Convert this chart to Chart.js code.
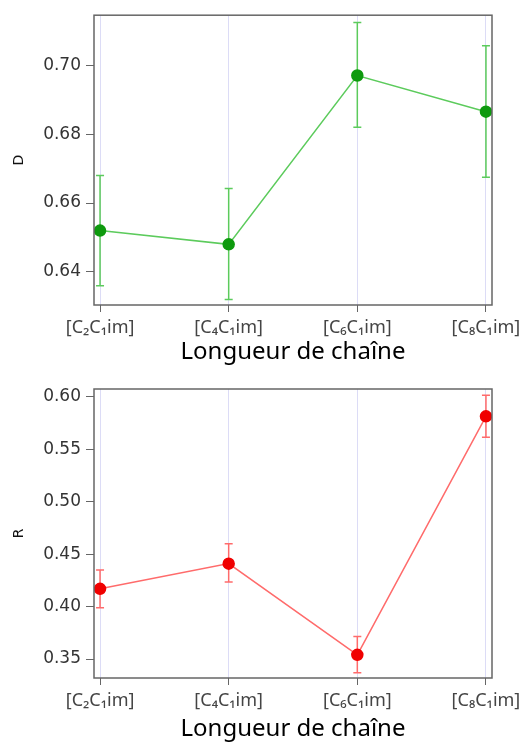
<!DOCTYPE html>
<html lang="fr">
<head>
    <meta charset="UTF-8">
    <title>D et R selon la longueur de chaîne</title>
    <script src="https://cdn.jsdelivr.net/npm/chart.js"></script>
    <style>
        body { margin: 0; background: #fff; }
        .box { position: absolute; left: 0; width: 528px; }
        #boxD { top: 0; height: 370px; }
        #boxR { top: 370px; height: 379px; }
    </style>
</head>
<body>
    <div class="box" id="boxD"><canvas id="chartD" width="528" height="370"></canvas></div>
    <div class="box" id="boxR"><canvas id="chartR" width="528" height="379"></canvas></div>

    <script>
        // Données
        const categories = ['[C₂C₁im]', '[C₄C₁im]', '[C₆C₁im]', '[C₈C₁im]'];

        const dValues = [0.652, 0.648, 0.697, 0.6865];
        const dLow    = [0.636, 0.632, 0.682, 0.6675];
        const dHigh   = [0.668, 0.6642, 0.7124, 0.7056];
        const dTicks  = [0.64, 0.66, 0.68, 0.70];

        const rValues = [0.417, 0.441, 0.354, 0.5815];
        const rLow    = [0.399, 0.4235, 0.337, 0.5615];
        const rHigh   = [0.435, 0.460, 0.3716, 0.6016];
        const rTicks  = [0.35, 0.40, 0.45, 0.50, 0.55, 0.60];

        // Barres d'erreur + cadre
        const errorBars = {
            id: 'errorBars',
            beforeDatasetsDraw(chart, args, opts) {
                const ctx = chart.ctx;
                const xs = chart.scales.x, ys = chart.scales.y;
                ctx.save();
                ctx.strokeStyle = opts.color;
                ctx.lineWidth = 1.5;
                opts.low.forEach((lo, i) => {
                    const x = xs.getPixelForValue(i);
                    const y1 = ys.getPixelForValue(lo);
                    const y2 = ys.getPixelForValue(opts.high[i]);
                    ctx.beginPath();
                    ctx.moveTo(x, y1); ctx.lineTo(x, y2);
                    ctx.moveTo(x - 4, y1); ctx.lineTo(x + 4, y1);
                    ctx.moveTo(x - 4, y2); ctx.lineTo(x + 4, y2);
                    ctx.stroke();
                });
                ctx.restore();
            },
            afterDraw(chart) {
                const a = chart.chartArea, ctx = chart.ctx;
                ctx.save();
                ctx.strokeStyle = '#666';
                ctx.lineWidth = 1.5;
                ctx.strokeRect(a.left, a.top, a.right - a.left, a.bottom - a.top);
                ctx.restore();
            }
        };

        function makeChart(id, opt) {
            return new Chart(document.getElementById(id), {
                type: 'line',
                data: {
                    datasets: [{
                        data: opt.values.map((v, i) => ({ x: i, y: v })),
                        borderColor: opt.lineColor,
                        borderWidth: 1.5,
                        pointRadius: 5.5,
                        pointBackgroundColor: opt.pointColor,
                        pointBorderColor: opt.pointColor,
                        tension: 0
                    }]
                },
                options: {
                    responsive: false,
                    animation: false,
                    devicePixelRatio: 1,
                    layout: { padding: { top: opt.padTop, right: 36, left: 0, bottom: 0 } },
                    plugins: {
                        legend: { display: false },
                        tooltip: { enabled: false },
                        errorBars: { low: opt.low, high: opt.high, color: opt.lineColor }
                    },
                    scales: {
                        x: {
                            type: 'linear',
                            min: -0.047,
                            max: 3.047,
                            afterBuildTicks: s => { s.ticks = categories.map((_, i) => ({ value: i })); },
                            afterFit: s => { s.height = opt.xHeight; },
                            ticks: {
                                callback: v => categories[v],
                                color: '#444',
                                padding: 5,
                                maxRotation: 0,
                                font: { family: 'Noto Sans', size: 18 }
                            },
                            grid: { color: '#dcdcf6', lineWidth: 1, tickColor: '#666', tickLength: 7 },
                            border: { display: false },
                            title: {
                                display: true,
                                text: 'Longueur de chaîne',
                                color: '#000',
                                font: { family: 'Noto Sans', size: 24 },
                                padding: { top: 0, bottom: opt.titlePad }
                            }
                        },
                        y: {
                            min: opt.yMin,
                            max: opt.yMax,
                            afterBuildTicks: s => { s.ticks = opt.ticks.map(v => ({ value: v })); },
                            afterFit: s => { s.width = 94; },
                            ticks: {
                                callback: v => v.toFixed(2),
                                color: '#333',
                                padding: 5,
                                font: { family: 'DejaVu Sans', size: 17 }
                            },
                            grid: { drawOnChartArea: false, tickColor: '#666', tickLength: 8 },
                            border: { display: false },
                            title: {
                                display: true,
                                text: opt.yTitle,
                                color: '#111',
                                font: { family: 'DejaVu Sans', size: 14 },
                                padding: { top: 11, bottom: 0 }
                            }
                        }
                    }
                },
                plugins: [errorBars]
            });
        }

        makeChart('chartD', {
            values: dValues, low: dLow, high: dHigh, ticks: dTicks,
            yMin: 0.6304, yMax: 0.7145, yTitle: 'D',
            lineColor: '#5ccb5c', pointColor: '#0e9a0e',
            padTop: 15, xHeight: 65, titlePad: 3
        });

        makeChart('chartR', {
            values: rValues, low: rLow, high: rHigh, ticks: rTicks,
            yMin: 0.3319, yMax: 0.6076, yTitle: 'R',
            lineColor: '#ff6b6b', pointColor: '#f00000',
            padTop: 19, xHeight: 71, titlePad: 5
        });
    </script>
</body>
</html>
